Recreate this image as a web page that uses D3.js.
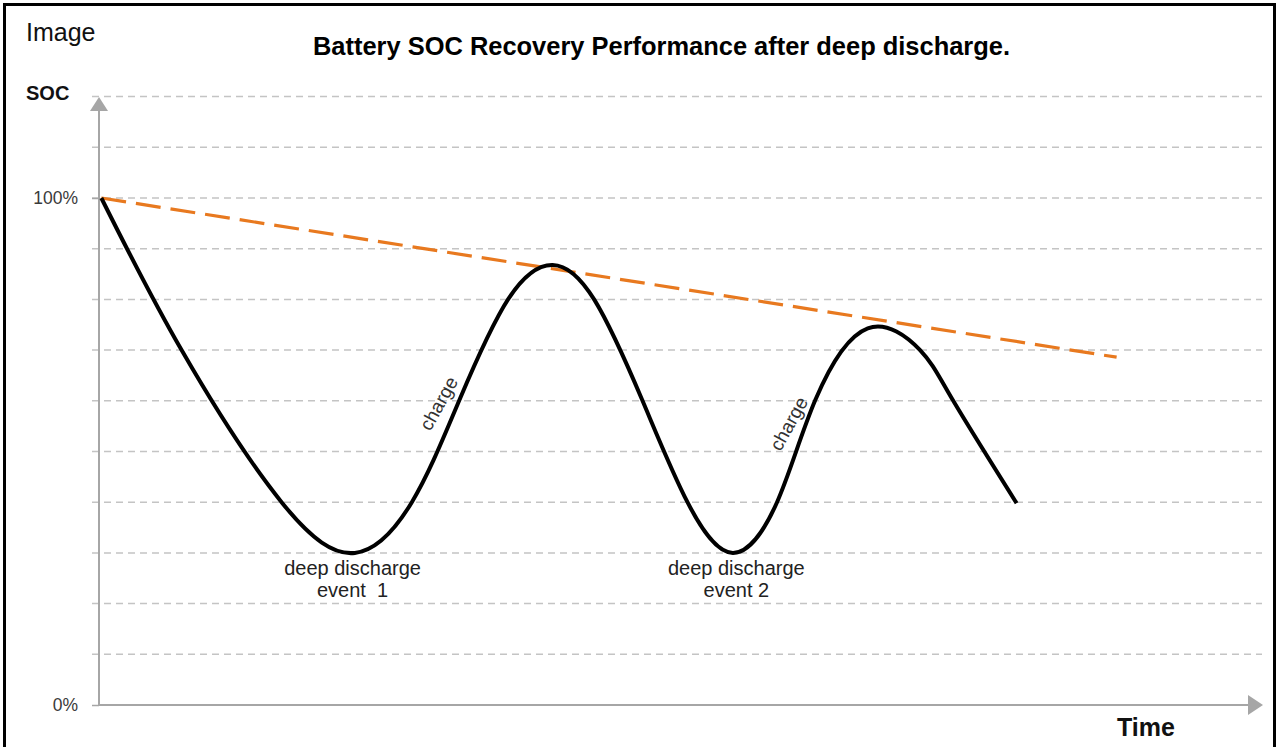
<!DOCTYPE html>
<html>
<head>
<meta charset="utf-8">
<script src="https://cdn.jsdelivr.net/npm/d3@7"></script>
<style>
  html, body { margin: 0; padding: 0; background: #fff; }
  #chart { width: 1278px; height: 747px; }
  text { font-family: "Liberation Sans", Arial, sans-serif; }
</style>
</head>
<body>
<div id="chart"></div>
<script>
// SOC curve (time in arbitrary units 0..100, soc in %)
var socTime = [0.2, 7.1, 15.7, 22.0, 26.9, 31.0, 35.2, 39.0,
               42.6, 46.7, 50.6, 54.5, 58.3, 61.6, 66.1,
               70.6, 73.4, 78.9];
var socValues = [100, 70.0, 40.0, 30, 40.0, 60.2, 80.1, 86.8,
                 79.9, 60.2, 40.0, 30, 40.0, 60.2, 74.3,
                 70.0, 60.2, 39.8];

// orange trend of peak SOC
var trendTime = [0.2, 87.5];
var trendValues = [100, 68.6];

var gridValues = [10, 20, 30, 40, 50, 60, 70, 80, 90, 100, 110, 120];
var tickValues = [0, 100];

var eventLabels = [
  {t: 21.8, lines: ["deep discharge", "event  1"]},
  {t: 54.8, lines: ["deep discharge", "event 2"]}
];
var chargeLabels = [{t: 29.2, soc: 59.5}, {t: 59.3, soc: 55.5}];

class SocChart {
    constructor(id) {
        const wrapper = document.getElementById(id);
        const rect = wrapper.getBoundingClientRect();
        this.width = rect.width;
        this.height = rect.height;

        this.svg = d3.select(wrapper)
            .append("svg")
            .attr("width", this.width)
            .attr("height", this.height);

        this.x = d3.scaleLinear().domain([0, 100]).range([99, 1262]);
        this.y = d3.scaleLinear().domain([0, 100]).range([705, 198]);
    }

    draw() {
        const svg = this.svg, x = this.x, y = this.y;

        // outer frame
        svg.append("rect")
            .attr("x", 4.5).attr("y", 4.5)
            .attr("width", 1270).attr("height", 770)
            .attr("fill", "none")
            .attr("stroke", "#000")
            .attr("stroke-width", 3);

        svg.append("text")
            .attr("x", 26).attr("y", 41)
            .attr("font-size", 25)
            .attr("fill", "#111")
            .text("Image");

        svg.append("text")
            .attr("x", 313).attr("y", 55)
            .attr("font-size", 25.5)
            .attr("font-weight", "bold")
            .attr("textLength", 697)
            .attr("lengthAdjust", "spacingAndGlyphs")
            .attr("fill", "#000")
            .text("Battery SOC Recovery Performance after deep discharge.");

        // dashed grid lines
        svg.selectAll(".grid")
            .data(gridValues)
            .enter()
            .append("line")
            .attr("class", "grid")
            .attr("x1", 92).attr("x2", 1262)
            .attr("y1", d => y(d)).attr("y2", d => y(d))
            .attr("stroke", "#c4c4c4")
            .attr("stroke-width", 1.5)
            .attr("stroke-dasharray", "7,5");

        // y axis labels (0% / 100%)
        const yAxis = d3.axisLeft(y)
            .tickValues(tickValues)
            .tickSize(7)
            .tickPadding(14)
            .tickFormat(d => d + "%");
        const gy = svg.append("g")
            .attr("transform", "translate(99,0)")
            .call(yAxis);
        gy.select(".domain").remove();
        gy.selectAll("line").attr("stroke", "#a6a6a6").attr("stroke-width", 1.5);
        gy.selectAll("text")
            .attr("font-size", 17.5)
            .attr("fill", "#3a3a3a")
            .attr("font-family", "\"Liberation Sans\", Arial, sans-serif");

        // axes lines with arrow heads
        const axisColor = "#a6a6a6";
        svg.append("line")
            .attr("x1", 99).attr("x2", 99)
            .attr("y1", y(0) + 1).attr("y2", 110)
            .attr("stroke", axisColor).attr("stroke-width", 2);
        svg.append("path")
            .attr("d", "M99,97 L90,111 L108,111 Z")
            .attr("fill", axisColor);
        svg.append("line")
            .attr("x1", 98).attr("x2", 1250)
            .attr("y1", y(0)).attr("y2", y(0))
            .attr("stroke", axisColor).attr("stroke-width", 2);
        svg.append("path")
            .attr("d", "M1263," + y(0) + " L1248," + (y(0) - 10) + " L1248," + (y(0) + 10) + " Z")
            .attr("fill", axisColor);

        svg.append("text")
            .attr("x", 26).attr("y", 100)
            .attr("font-size", 20)
            .attr("font-weight", "bold")
            .attr("fill", "#111")
            .text("SOC");

        svg.append("text")
            .attr("x", 1117).attr("y", 736)
            .attr("font-size", 25)
            .attr("font-weight", "bold")
            .attr("fill", "#111")
            .text("Time");

        // trend line
        const trendLine = d3.line()
            .x((d, i) => x(trendTime[i]))
            .y(d => y(d));
        svg.append("path")
            .datum(trendValues)
            .attr("d", trendLine)
            .attr("fill", "none")
            .attr("stroke", "#e8791f")
            .attr("stroke-width", 3.2)
            .attr("stroke-dasharray", "25,10");

        // SOC curve
        const socLine = d3.line()
            .x((d, i) => x(socTime[i]))
            .y(d => y(d))
            .curve(d3.curveNatural);
        svg.append("path")
            .datum(socValues)
            .attr("d", socLine)
            .attr("fill", "none")
            .attr("stroke", "#000")
            .attr("stroke-width", 4)
            .attr("stroke-linejoin", "round");

        // charge labels
        svg.selectAll(".charge")
            .data(chargeLabels)
            .enter()
            .append("text")
            .attr("class", "charge")
            .attr("transform", d => "translate(" + x(d.t) + "," + y(d.soc) + ") rotate(-61)")
            .attr("text-anchor", "middle")
            .attr("dy", "0.35em")
            .attr("font-size", 19)
            .attr("fill", "#333")
            .text("charge");

        // deep discharge event labels
        const ev = svg.selectAll(".event")
            .data(eventLabels)
            .enter()
            .append("text")
            .attr("class", "event")
            .attr("text-anchor", "middle")
            .attr("font-size", 20)
            .attr("fill", "#222")
            .style("white-space", "pre");
        ev.selectAll("tspan")
            .data(d => d.lines.map(l => ({t: d.t, l: l})))
            .enter()
            .append("tspan")
            .attr("x", d => x(d.t))
            .attr("y", (d, i) => 575 + i * 22)
            .text(d => d.l);
    }
}

new SocChart("chart").draw();
</script>
</body>
</html>
